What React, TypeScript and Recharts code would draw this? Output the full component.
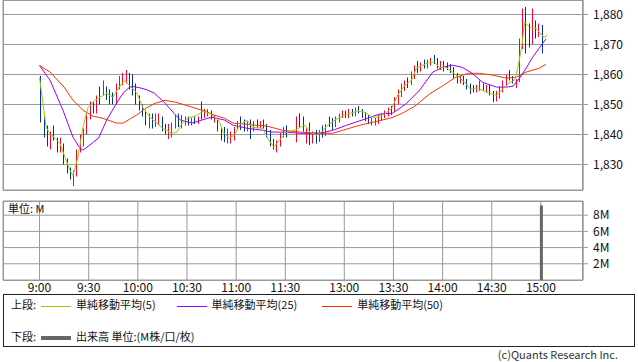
import React from "react";
import { Bar, CartesianGrid, ComposedChart, Line, XAxis, YAxis } from "recharts";

// time axis: minutes from 9:00, afternoon session starts at t=156 (12:30)
const TIME_TICKS = [0, 30, 60, 90, 120, 150, 186, 216, 246, 276, 306];
const TIME_LABELS = ["9:00", "9:30", "10:00", "10:30", "11:00", "11:30", "13:00", "13:30", "14:00", "14:30", "15:00"];
const PRICE_TICKS = [1830, 1840, 1850, 1860, 1870, 1880];
const VOL_TICKS = [2, 4, 6, 8];

// 2-minute candles [open, high, low, close]
const amOHLC: number[][] = [
  [1859, 1859.5, 1844, 1845], [1845.5, 1846, 1839, 1840], [1842, 1843, 1836, 1837], [1836, 1841, 1835, 1840],
  [1842, 1843, 1838, 1838.5], [1838, 1839, 1834, 1835], [1835, 1839, 1834, 1838], [1836, 1837, 1830, 1831],
  [1831, 1832, 1827, 1828], [1828, 1829, 1825, 1826], [1824, 1828, 1822.8, 1827], [1827, 1835, 1826, 1834],
  [1835, 1840, 1834, 1838], [1837, 1842, 1836, 1841], [1841, 1847, 1840, 1846], [1846, 1851, 1845, 1850],
  [1850, 1851, 1847, 1848], [1848, 1853, 1847, 1852], [1855, 1856, 1850, 1851], [1854, 1858, 1853, 1857],
  [1855, 1856, 1851.5, 1852], [1854, 1855, 1850, 1851], [1853, 1854, 1850, 1850.5], [1851, 1857, 1850, 1856],
  [1856, 1859.5, 1855, 1859], [1857, 1860.5, 1856.5, 1860], [1858, 1861.5, 1857, 1860], [1860, 1860.5, 1855, 1857],
  [1859, 1860, 1853, 1855], [1856, 1857, 1850, 1852], [1852, 1853, 1848, 1849], [1849, 1850, 1846, 1847],
  [1847, 1848, 1843, 1844], [1843, 1847, 1842, 1846], [1846, 1847, 1842, 1843], [1843, 1847, 1842.5, 1846],
  [1844, 1847, 1843, 1846], [1845, 1846, 1841, 1842], [1843, 1843.5, 1840, 1840.5], [1840, 1843.5, 1838.5, 1843],
  [1840, 1844, 1839, 1843], [1843, 1846.5, 1842, 1846], [1846, 1847, 1842.5, 1843], [1843, 1846.5, 1842, 1846],
  [1843.5, 1846, 1843, 1845.5], [1845.5, 1846, 1843, 1844], [1843.5, 1845.5, 1843, 1845], [1845.5, 1846, 1843.5, 1844],
  [1844, 1846, 1843.5, 1845.5], [1848, 1851, 1845, 1846], [1846, 1848.5, 1845.5, 1848], [1846.5, 1848.5, 1846, 1848],
  [1847.5, 1848, 1845, 1845.5], [1844.5, 1846.5, 1844, 1846], [1845, 1845.5, 1841, 1842], [1842, 1842.5, 1838, 1839],
  [1841, 1842.5, 1837.4, 1838], [1838, 1842, 1837, 1841], [1838, 1841, 1837, 1840], [1839, 1842.5, 1838, 1842],
  [1842, 1844.5, 1841.5, 1844], [1845, 1846, 1841.5, 1842], [1844, 1845, 1841, 1842], [1842, 1844.5, 1841, 1844],
  [1844, 1845, 1838.5, 1842], [1842, 1844.5, 1841, 1844], [1844, 1845, 1842, 1843], [1843, 1844.5, 1842, 1844],
  [1844, 1845, 1842, 1842.5], [1843, 1843.5, 1839, 1840], [1841, 1841.5, 1836, 1837.5], [1838, 1838.5, 1835, 1836],
  [1835, 1838, 1834, 1837.5], [1837, 1840.5, 1836, 1840], [1840, 1842.5, 1839, 1842], [1842, 1843, 1839, 1840],
];

const pmOHLC: number[][] = [
  [1838, 1846, 1837.4, 1844], [1846, 1847, 1842.5, 1843], [1845, 1846, 1841, 1842], [1838, 1842, 1837, 1841],
  [1843, 1844, 1836.5, 1838], [1838, 1841, 1837, 1840], [1841, 1841.5, 1837, 1838], [1838, 1841.5, 1837.5, 1841],
  [1842, 1843, 1839, 1839.5], [1840, 1843.5, 1839.5, 1843], [1845, 1846, 1842.5, 1843], [1845, 1845.5, 1841.5, 1842.5],
  [1843, 1846, 1842.5, 1845.5], [1844.5, 1847, 1844, 1846.5], [1846, 1848, 1845.5, 1847.5], [1847.5, 1848, 1845.5, 1846],
  [1846, 1848.5, 1845.5, 1848], [1848, 1848.5, 1846, 1846.5], [1846.5, 1849, 1846, 1848.5], [1849, 1849.5, 1847, 1847.5],
  [1848, 1848.5, 1845.5, 1846], [1847, 1847.5, 1844.5, 1845], [1846, 1846.5, 1843.5, 1844], [1843.5, 1845.5, 1843, 1845],
  [1843.5, 1845.5, 1843, 1845], [1844, 1846.5, 1843.5, 1846], [1845, 1847, 1844.5, 1846.5], [1846, 1848, 1845.5, 1847.5],
  [1846.5, 1849, 1846, 1848.5], [1849, 1849.5, 1846.5, 1847.5], [1848, 1852.5, 1847.5, 1852], [1851, 1855, 1850, 1854.5],
  [1853, 1857, 1852.5, 1856.5], [1855, 1858, 1854.5, 1857.5], [1858, 1859, 1855.5, 1856], [1857, 1861, 1856.5, 1860],
  [1859, 1863, 1858.5, 1862], [1864, 1864.5, 1860.5, 1861], [1861.5, 1864, 1861, 1863.5], [1864, 1865, 1862, 1862.5],
  [1862.5, 1865, 1862, 1864.5], [1863.5, 1865.5, 1863, 1865], [1866, 1866.5, 1863.5, 1864], [1865, 1865.5, 1862, 1862.5],
  [1862, 1864.5, 1861.5, 1864], [1864, 1864.5, 1861, 1862], [1863.5, 1864, 1861.5, 1862], [1863, 1863.5, 1860.5, 1861],
  [1862, 1862.5, 1858.5, 1859], [1860, 1860.5, 1857, 1857.5], [1857.5, 1859.5, 1857, 1859], [1859, 1859.5, 1856.5, 1857],
  [1858, 1858.5, 1855, 1855.5], [1856.5, 1857, 1853.5, 1854], [1856, 1856.5, 1854, 1854.5], [1854.5, 1856.5, 1854, 1856],
  [1855, 1858, 1854.5, 1857.5], [1856.5, 1857, 1854.5, 1855], [1854.5, 1856.5, 1854, 1856], [1856, 1856.5, 1853, 1853.5],
  [1854, 1854.5, 1850.8, 1851.5], [1851.5, 1854.5, 1851, 1854], [1852.5, 1856, 1852, 1855.5], [1854.5, 1858, 1854, 1857.5],
  [1856.5, 1860, 1856, 1859.5], [1861, 1861.5, 1858, 1858.5], [1859, 1859.5, 1857, 1857.5], [1856, 1858.5, 1855.5, 1858],
  [1858, 1872, 1857.5, 1871], [1869, 1882, 1868.5, 1880], [1882, 1882.5, 1867, 1868], [1876, 1877, 1869, 1871],
  [1871, 1882, 1870, 1877], [1877.5, 1878, 1872, 1874], [1873, 1877, 1872.5, 1876], [1876, 1876.5, 1867, 1870],
];

// moving averages, [t, value]
const ma5Pts = [
  [0, 1859], [4, 1842.5], [6, 1840.4], [9.5, 1838.7], [12.5, 1837], [15.5, 1832.5], [18.6, 1828], [20.4, 1826.4],
  [23.5, 1832.5], [26.5, 1842.5], [29.6, 1849], [33.8, 1851.4], [37, 1852.4], [41, 1853.7], [44.8, 1852.4], [48, 1855.4],
  [52, 1858], [55, 1856.4], [59.5, 1853.7], [63, 1849], [67.4, 1845.8], [71.6, 1843.8], [75.3, 1842], [80.8, 1840.4],
  [83.8, 1840.8], [87, 1843.8], [90.5, 1845.4], [96, 1846.4], [99.7, 1847.8], [104, 1847], [108, 1845.4], [110, 1844.1],
  [112, 1840.8], [116, 1838.8], [119, 1839.8], [122, 1843.1], [126.5, 1844.8], [130, 1842.4], [136, 1842.1], [140, 1838.1],
  [143, 1835.8], [148, 1839.1], [151, 1840.8], [156, 1841.5], [159, 1842.4], [162, 1843.1], [165, 1840.8], [169, 1839.8],
  [172, 1840.8], [176, 1843.1], [182, 1845.4], [188, 1846.8], [194, 1847.8], [198.5, 1847.4], [203, 1845.8], [206, 1845.8],
  [210.7, 1846.8], [215, 1848.8], [218.6, 1853.1], [223, 1856.4], [227, 1858.1], [230, 1862.1], [234, 1863.1], [238, 1864.1],
  [241, 1864.1], [244, 1862.4], [248, 1862.4], [252, 1860.8], [256, 1859.1], [260, 1857.1], [263, 1855.1], [266, 1855.4],
  [270, 1854.8], [274, 1853.8], [279, 1853.1], [283, 1855.4], [287, 1857.4], [290, 1858.1], [292, 1862.4], [294.5, 1870],
  [296, 1877.4], [299, 1875.8], [303, 1875.4], [305, 1874.1], [308, 1872.4], [310, 1873.1],
];
const ma25Pts = [
  [0, 1863], [6.4, 1858.1], [14.3, 1848.1], [20.4, 1839.1], [24.7, 1835.4], [26.5, 1834.8], [29, 1835.8], [36, 1838.8],
  [41, 1844.8], [47, 1850.4], [51, 1853.8], [55, 1855.8], [57, 1856], [61, 1855.6], [65, 1855], [70, 1853.8], [76, 1850.8],
  [82, 1847.1], [86, 1844.8], [93, 1843.8], [99, 1844.8], [105, 1845.8], [113, 1844.8], [118, 1843.1], [126.5, 1842.1],
  [136, 1841.4], [142, 1840.8], [150, 1840.8], [159, 1840.4], [171, 1840.4], [179, 1841.4], [187.5, 1843.1], [200, 1845.4],
  [207.6, 1846.8], [215.5, 1847.1], [220, 1848.8], [224, 1850.4], [232, 1854.8], [240, 1860.8], [246, 1862.4], [252, 1863.1],
  [258, 1862.4], [264, 1860.4], [270.4, 1857.4], [279, 1855.8], [285, 1855.8], [289, 1856.1], [293, 1858.8], [297, 1862.1],
  [301, 1865.8], [305, 1868.8], [309, 1871.8],
];
const ma50Pts = [
  [0, 1863], [6.4, 1860.8], [15, 1855.8], [20.4, 1851.4], [26.5, 1848.1], [32.6, 1846.1], [38.7, 1845.4], [47, 1843.8],
  [51, 1843.8], [55, 1845.1], [59, 1846.4], [65, 1848.8], [70.5, 1850.4], [76.6, 1851.4], [82.7, 1850.8], [89, 1849.8],
  [95, 1848.8], [101, 1847.8], [107, 1846.4], [113, 1845.4], [118, 1843.8], [128, 1843.3], [138.7, 1842.8], [148.5, 1841.4],
  [159, 1840.8], [171, 1840.4], [179, 1840.4], [185, 1841.4], [195.4, 1843.1], [209, 1844.8], [215, 1845.6], [221, 1847],
  [229, 1849.4], [238, 1853.5], [246, 1856.2], [254, 1859.1], [262, 1860.4], [268.6, 1860.4], [276.5, 1859.8], [285, 1858.8],
  [291, 1859.1], [297, 1860.8], [305, 1862.1], [309, 1863.4],
];

// volume in millions (only the closing auction is visible)
const volT = [306];
const volM = [9.2];

const T_DOMAIN = [-22.3, 331.7];
const FONT = '"Noto Sans CJK JP", "Noto Sans", sans-serif';
const GRID = "#999";
const UP = "#ff0033";
const DOWN = "#003399";

const candles = [
  ...amOHLC.map((r, i) => ({ t: i * 2, o: r[0], h: r[1], l: r[2], c: r[3] })),
  ...pmOHLC.map((r, i) => ({ t: 156 + i * 2, o: r[0], h: r[1], l: r[2], c: r[3] })),
];
const toPts = (a: number[][]) => a.map(([t, v]) => ({ t, v }));
const volume = volT.map((t, i) => ({ t, v: volM[i] }));

const Candle = (props: any) => {
  const { x, y, width, height, payload } = props;
  if (!payload) return null;
  const { o, h, l, c } = payload;
  const color = c >= o ? UP : DOWN;
  const top = Math.min(y, y + height);
  const hh = Math.abs(height);
  const k = h === l ? 0 : hh / (h - l);
  const bodyTop = top + (h - Math.max(o, c)) * k;
  const bodyH = Math.max(1, Math.abs(o - c) * k);
  const bx = Math.round(x);
  const cx = bx + 1.5;
  return (
    <g>
      <line x1={cx} x2={cx} y1={top} y2={top + hh} stroke={color} strokeWidth={1} />
      <rect x={bx} y={bodyTop} width={Math.round(width)} height={bodyH} fill={color} />
    </g>
  );
};

const tickStyle = { fontSize: 12, fill: "#111", fontFamily: FONT };
const timeLabel = (t: number) => TIME_LABELS[TIME_TICKS.indexOf(t)] ?? "";

const LegendLine = ({ color, w = 1 }: { color: string; w?: number }) => (
  <span style={{ display: "inline-block", width: 30, height: w, background: color, verticalAlign: "middle", margin: "0 5px 0 5px" }} />
);

export default function App() {
  return (
    <div style={{ position: "fixed", left: 0, top: 0, width: 638, height: 362, background: "#fff", fontFamily: FONT, overflow: "hidden" }}>
      <div style={{ position: "absolute", left: 0, top: 0 }}>
        <ComposedChart width={638} height={191} data={candles} margin={{ top: 0, right: 0, bottom: 1, left: 3 }}>
          <CartesianGrid stroke={GRID} />
          <XAxis type="number" dataKey="t" domain={T_DOMAIN} ticks={TIME_TICKS} height={0} tick={false} tickLine={false} axisLine={false} allowDataOverflow />
          <YAxis
            orientation="right"
            width={55}
            domain={[1821.5, 1884.8333]}
            ticks={PRICE_TICKS}
            interval={0}
            allowDataOverflow
            tickFormatter={(v: number) => v.toLocaleString("en-US")}
            tick={tickStyle}
            tickSize={5}
            tickMargin={5}
            tickLine={{ stroke: GRID }}
            axisLine={{ stroke: GRID }}
          />
          <Bar dataKey={(d: any) => [d.l, d.h]} shape={Candle} barSize={3} isAnimationActive={false} />
          <Line data={toPts(ma50Pts)} dataKey="v" stroke="#ff3300" dot={false} strokeWidth={1} isAnimationActive={false} />
          <Line data={toPts(ma25Pts)} dataKey="v" stroke="#9900ff" dot={false} strokeWidth={1} isAnimationActive={false} />
          <Line data={toPts(ma5Pts)} dataKey="v" stroke="#99cc00" dot={false} strokeWidth={1} isAnimationActive={false} />
        </ComposedChart>
      </div>
      <div style={{ position: "absolute", left: 3, top: 0, width: 580, height: 191, border: `1px solid ${GRID}`, boxSizing: "border-box", pointerEvents: "none" }} />

      <div style={{ position: "absolute", left: 0, top: 195 }}>
        <ComposedChart width={638} height={100} data={volume} margin={{ top: 6, right: 0, bottom: 0, left: 3 }}>
          <CartesianGrid stroke={GRID} />
          <XAxis
            type="number"
            dataKey="t"
            domain={T_DOMAIN}
            ticks={TIME_TICKS}
            interval={0}
            height={15}
            tickFormatter={timeLabel}
            tick={tickStyle}
            tickLine={false}
            axisLine={false}
            tickSize={0}
            tickMargin={3}
            allowDataOverflow
          />
          <YAxis
            orientation="right"
            width={55}
            domain={[0, 9.75]}
            ticks={VOL_TICKS}
            interval={0}
            allowDataOverflow
            tickFormatter={(v: number) => `${v}M`}
            tick={tickStyle}
            tickSize={5}
            tickMargin={5}
            tickLine={{ stroke: GRID }}
            axisLine={{ stroke: GRID }}
          />
          <Bar dataKey="v" fill="#666" barSize={3} isAnimationActive={false} />
        </ComposedChart>
      </div>
      <div style={{ position: "absolute", left: 3, top: 201, width: 580, height: 80, border: `1px solid ${GRID}`, boxSizing: "border-box", pointerEvents: "none" }} />
      <div style={{ position: "absolute", left: 8, top: 202, fontSize: 11, lineHeight: "13px", color: "#111" }}>単位: M</div>

      <div style={{ position: "absolute", left: 3, top: 294, width: 632, height: 53, border: "1px solid #222", boxSizing: "border-box", fontSize: 11, color: "#111" }}>
        <div style={{ position: "absolute", left: 7, top: 2, whiteSpace: "nowrap", lineHeight: "14px" }}>
          上段:
          <LegendLine color="#99cc00" />
          <span>単純移動平均(5)</span>
          <span style={{ display: "inline-block", width: 16 }} />
          <LegendLine color="#9900ff" />
          <span>単純移動平均(25)</span>
          <span style={{ display: "inline-block", width: 20 }} />
          <LegendLine color="#ff3300" />
          <span>単純移動平均(50)</span>
        </div>
        <div style={{ position: "absolute", left: 7, top: 34, whiteSpace: "nowrap", lineHeight: "14px" }}>
          下段:
          <LegendLine color="#666" w={4} />
          <span>出来高 単位:(M株/口/枚)</span>
        </div>
      </div>
      <div style={{ position: "absolute", right: 20, top: 348, fontSize: 11, lineHeight: "12px", color: "#333" }}>(c)Quants Research Inc.</div>
    </div>
  );
}
